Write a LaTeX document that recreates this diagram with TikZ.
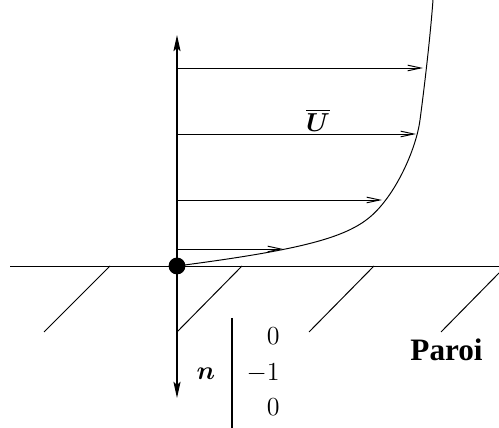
\documentclass[tikz,border=0pt]{standalone}
\usepackage{amsmath,bm}
\usepackage{fontspec}
\newfontfamily\paroifont{Liberation Serif}
\usetikzlibrary{arrows.meta}
\begin{document}
\begin{tikzpicture}[x=0.4615pt,y=-0.4615pt,
  thinline/.style={line width=0.45pt},
  axistip/.style={line width=0.5pt,-{Stealth[length=7.5pt,width=3.3pt,inset=1.5pt]}},
  vel/.style={line width=0.45pt,-{Straight Barb[length=6pt,width=2.6pt]}},
  lbl/.style={font=\large, inner sep=0pt},
  dot/.style={circle, fill=black, inner sep=0pt, minimum size=7.8pt}]
\useasboundingbox (0,0) rectangle (499,428);
% coordinates
\coordinate (top) at (177,35);
\coordinate (bot) at (177,398);
\coordinate (wl) at (10,266);
\coordinate (wr) at (499,266);
\coordinate (s1) at (177,68);  \coordinate (e1) at (423,68);
\coordinate (s2) at (177,134); \coordinate (e2) at (416,134);
\coordinate (s3) at (177,200); \coordinate (e3) at (382,200);
\coordinate (s4) at (177,249); \coordinate (e4) at (283,249);
% wall
\draw[thinline] (wl) -- (wr);
\coordinate (h1a) at (110,266); \coordinate (h1b) at (44,332);
\coordinate (h2a) at (242,266); \coordinate (h2b) at (177,332);
\coordinate (h3a) at (374,266); \coordinate (h3b) at (309,332);
\coordinate (h4a) at (499,273); \coordinate (h4b) at (441,332);
\draw[thinline] (h1a) -- (h1b) (h2a) -- (h2b) (h3a) -- (h3b) (h4a) -- (h4b);
% velocity profile
\coordinate (p0) at (177,266);
\coordinate (p1) at (370,217);
\coordinate (p2) at (420,120);
\coordinate (p3) at (433,0);
\draw[thinline] (p0) .. controls (300,250) and (345,238) .. (p1)
                     .. controls (395,196) and (416,150) .. (p2)
                     .. controls (424,90) and (430,40) .. (p3);
% arrows
\draw[vel] (s1) -- (e1);
\draw[vel] (s2) -- (e2);
\draw[vel] (s3) -- (e3);
\draw[vel] (s4) -- (e4);
% dot and axis
\node[dot] (O) at (177,266) {};
\draw[axistip] (O.center) -- (top);
\draw[axistip] (O.center) -- (bot);
% labels
\node[lbl, anchor=base] (U) at (318,132) {$\overline{\bm{U}}$};
\node[lbl, anchor=base] (n) at (206,380) {$\bm{n}$};
\coordinate (bart) at (232,318); \coordinate (barb) at (232,428);
\draw[line width=1.25pt] (bart) -- (barb);
\node[lbl, anchor=base east] (c1) at (280,345) {$0$};
\node[lbl, anchor=base east] (c2) at (280,381) {$-1$};
\node[lbl, anchor=base east] (c3) at (280,416) {$0$};
\node[inner sep=0pt, anchor=base west, font=\paroifont\bfseries\Large] (paroi) at (410,361) {Paroi};
\end{tikzpicture}
\end{document}
